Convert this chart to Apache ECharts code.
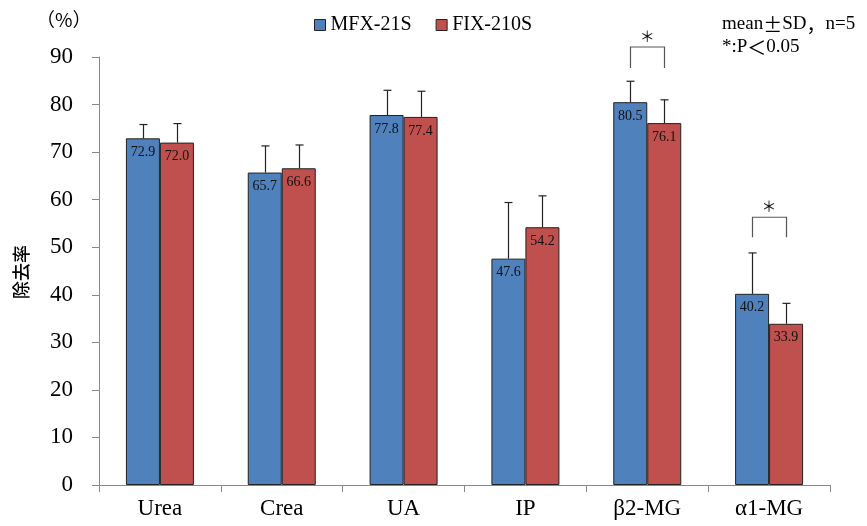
<!DOCTYPE html>
<html>
<head>
<meta charset="utf-8">
<script src="https://cdn.jsdelivr.net/npm/echarts@6/dist/echarts.min.js"></script>
<style>
html, body { margin: 0; padding: 0; background: #fff; }
#main { width: 867px; height: 526px; }
</style>
</head>
<body>
<div id="main"></div>
<script>
var categories = ['Urea', 'Crea', 'UA', 'IP', 'β2-MG', 'α1-MG'];
var mfxMean = [72.9, 65.7, 77.8, 47.6, 80.5, 40.2];
var fixMean = [72.0, 66.6, 77.4, 54.2, 76.1, 33.9];
var mfxSd = [2.9, 5.6, 5.2, 11.8, 4.4, 8.6];
var fixSd = [4.0, 4.9, 5.4, 6.6, 4.9, 4.3];
// significance brackets: category index, bracket top, leg bottom
var sigCats = [4, 5];
var sigTop = [92.1, 56.3];
var sigBottom = [87.7, 52.1];

var serif = '"Liberation Serif", "Times New Roman", serif';
var cjk = '"Noto Sans CJK JP", sans-serif';
var BAR_W = 34;

var chart = echarts.init(document.getElementById('main'));

// error bars: [catIndex, mean, sd, side]
var errData = [];
for (var i = 0; i < categories.length; i++) {
    errData.push([i, mfxMean[i], mfxSd[i], -1]);
    errData.push([i, fixMean[i], fixSd[i], 1]);
}
var sigData = [];
for (var j = 0; j < sigCats.length; j++) {
    sigData.push([sigCats[j], sigTop[j], sigBottom[j]]);
}

function renderErr(params, api) {
    var idx = api.value(0);
    var side = api.value(3);
    var p0 = api.coord([idx, api.value(1)]);
    var p1 = api.coord([idx, api.value(1) + api.value(2)]);
    var x = Math.round(p0[0] + side * BAR_W / 2) + 0.5;
    var st = { stroke: '#222', lineWidth: 1.2 };
    return {
        type: 'group',
        children: [
            { type: 'line', shape: { x1: x, y1: p0[1], x2: x, y2: p1[1] }, style: st },
            { type: 'line', shape: { x1: x - 4, y1: p1[1], x2: x + 4, y2: p1[1] }, style: st }
        ]
    };
}

function renderSig(params, api) {
    var idx = api.value(0);
    var top = api.coord([idx, api.value(1)]);
    var bot = api.coord([idx, api.value(2)]);
    var xl = Math.round(top[0] - BAR_W / 2) + 0.5, xr = Math.round(top[0] + BAR_W / 2) + 0.5;
    var st = { stroke: '#555', lineWidth: 1.2, fill: null };
    return {
        type: 'group',
        children: [
            { type: 'polyline', shape: { points: [[xl, bot[1]], [xl, top[1]], [xr, top[1]], [xr, bot[1]]] }, style: st },
            { type: 'text', style: { text: '＊', x: top[0], y: top[1] - 3, textAlign: 'center', textVerticalAlign: 'bottom', font: '15px ' + cjk, fill: '#111' } }
        ]
    };
}

var labelStyle = {
    show: true,
    position: 'insideTop',
    distance: 7,
    fontFamily: serif,
    fontSize: 14,
    color: '#111',
    formatter: function (p) { return p.value.toFixed(1); }
};

chart.setOption({
    animation: false,
    grid: { left: 99, right: 37, top: 57, bottom: 41 },
    legend: {
        data: ['MFX-21S', 'FIX-210S'],
        left: 309,
        top: 10,
        icon: 'rect',
        itemWidth: 11,
        itemHeight: 11,
        itemGap: 24,
        itemStyle: { borderColor: '#222', borderWidth: 1 },
        textStyle: { fontFamily: serif, fontSize: 20, color: '#000' }
    },
    xAxis: {
        type: 'category',
        data: categories,
        axisLine: { lineStyle: { color: '#888' } },
        axisTick: { show: true, length: 7, lineStyle: { color: '#888' } },
        axisLabel: { fontFamily: serif, fontSize: 23, color: '#000', margin: 12 }
    },
    yAxis: {
        type: 'value',
        min: 0,
        max: 90,
        interval: 10,
        splitLine: { show: false },
        axisLine: { show: true, lineStyle: { color: '#888' } },
        axisTick: { show: true, length: 7, lineStyle: { color: '#888' } },
        axisLabel: { fontFamily: serif, fontSize: 23, color: '#000', margin: 26 }
    },
    graphic: [
        { type: 'text', left: 36, top: 10, style: { text: '（%）', font: '19px ' + cjk, fill: '#000' } },
        { type: 'text', x: 21, y: 272, rotation: Math.PI / 2, style: { text: '除去率', font: '500 18px ' + cjk, fill: '#000', textAlign: 'center', textVerticalAlign: 'middle' } },
        {
            type: 'text', left: 722, top: 15,
            style: {
                text: '{a|mean}{b|±}{a|SD}{b|，}{a|n=5}',
                rich: {
                    a: { fontFamily: serif, fontSize: 19, fill: '#000' },
                    b: { fontFamily: cjk, fontSize: 19, fill: '#000' }
                }
            }
        },
        {
            type: 'text', left: 722, top: 38,
            style: {
                text: '{a|*:P}{b|＜}{a|0.05}',
                rich: {
                    a: { fontFamily: serif, fontSize: 19, fill: '#000' },
                    b: { fontFamily: cjk, fontSize: 19, fill: '#000' }
                }
            }
        }
    ],
    series: [
        {
            name: 'MFX-21S',
            type: 'bar',
            data: mfxMean,
            barWidth: BAR_W,
            barGap: '0%',
            itemStyle: { color: '#4F81BD', borderColor: '#222', borderWidth: 1 },
            label: labelStyle
        },
        {
            name: 'FIX-210S',
            type: 'bar',
            data: fixMean,
            barWidth: BAR_W,
            barGap: '0%',
            itemStyle: { color: '#C0504D', borderColor: '#222', borderWidth: 1 },
            label: labelStyle
        },
        {
            type: 'custom',
            renderItem: renderErr,
            data: errData,
            z: 5,
            silent: true
        },
        {
            type: 'custom',
            renderItem: renderSig,
            data: sigData,
            clip: false,
            z: 5,
            silent: true
        }
    ]
});
</script>
</body>
</html>
